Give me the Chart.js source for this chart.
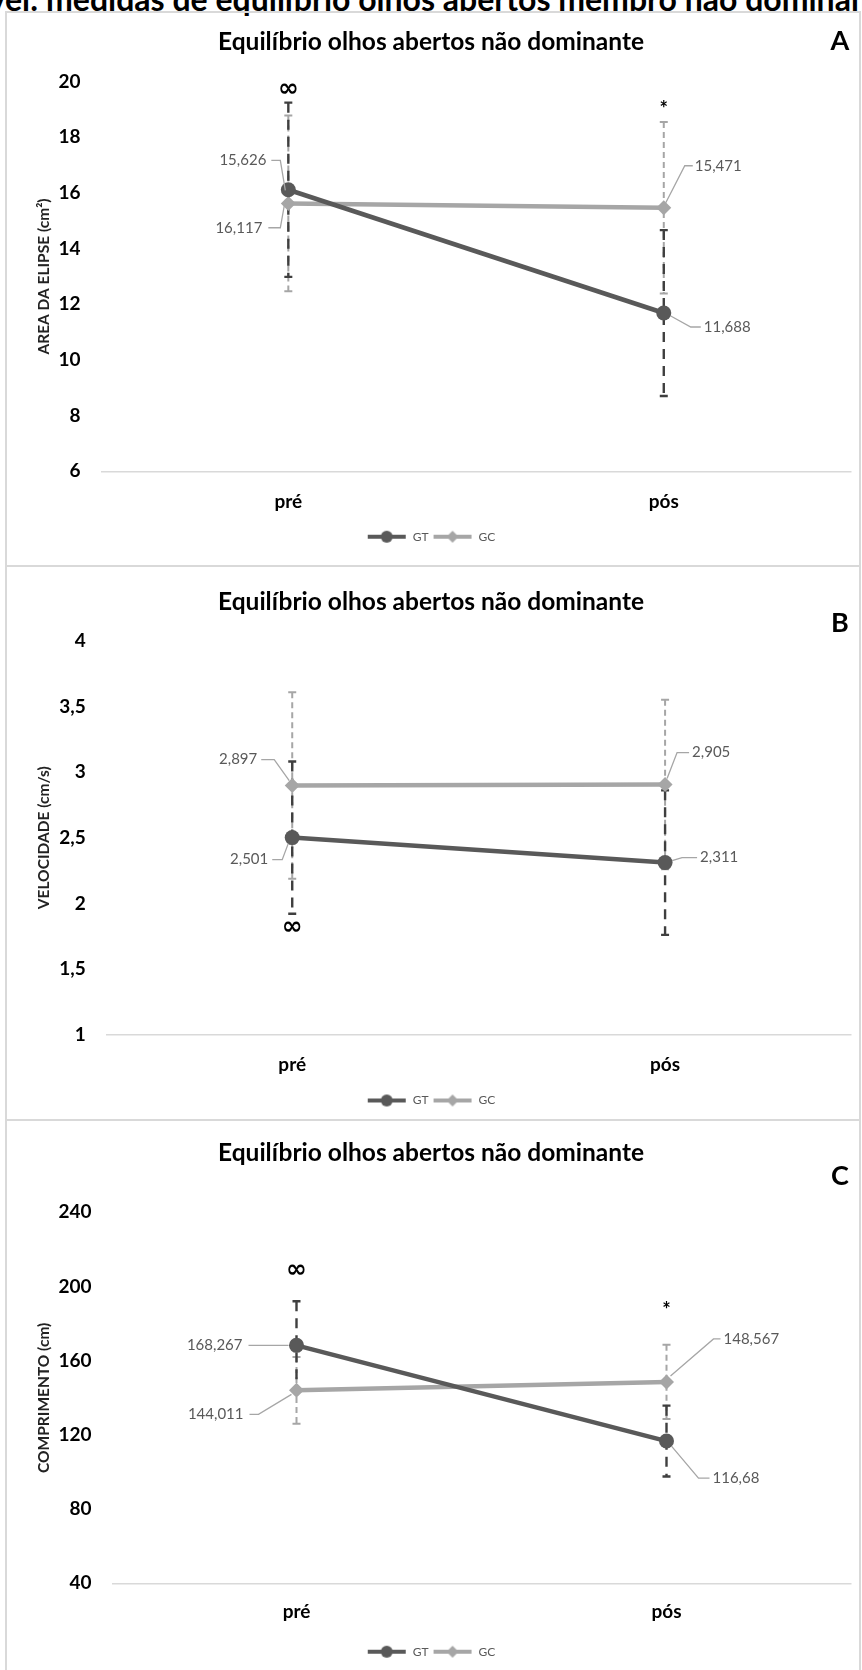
<!DOCTYPE html>
<html>
<head>
<meta charset="utf-8">
<script src="https://cdn.jsdelivr.net/npm/chart.js@4.4.1/dist/chart.umd.min.js"></script>
<style>
  html, body { margin: 0; padding: 0; background: #fff; }
  body { width: 862px; height: 1670px; position: relative; overflow: hidden; font-family: Lato, sans-serif; }
  #caption { position: absolute; top: -17px; white-space: nowrap; font: bold 32px Lato; line-height: 1; color: #000; }
  .box { position: absolute; left: 5px; width: 852px; border: 2px solid #d9d9d9; }
  canvas { position: absolute; left: 7px; }
</style>
</head>
<body>
<div id="caption"><span id="capPre">Figura 5. Variável: </span>medidas de equilíbrio olhos abertos membro não dominante</div>

<div class="box" style="top:11px;height:552px"></div>
<div class="box" style="top:565px;height:552px"></div>
<div class="box" style="top:1119px;height:560px"></div>

<canvas id="chartA" width="852" height="552" style="top:13px"></canvas>
<canvas id="chartB" width="852" height="552" style="top:567px"></canvas>
<canvas id="chartC" width="852" height="549" style="top:1121px"></canvas>

<script>
// categorias
const categories = ['pré', 'pós'];
const seriesNames = ['GT', 'GC'];

// A - área da elipse (cm²)
const areaGT = [16.117, 11.688];
const areaGC = [15.626, 15.471];
const areaGTsd = [3.13, 2.98];
const areaGCsd = [3.16, 3.08];
const areaTicks = [6, 8, 10, 12, 14, 16, 18, 20];
const areaMarks = ['∞', '*'];
const areaMarkValues = [19.73, 19.1];

// B - velocidade (cm/s)
const velGT = [2.501, 2.311];
const velGC = [2.897, 2.905];
const velGTsd = [0.58, 0.55];
const velGCsd = [0.71, 0.645];
const velTicks = [1, 1.5, 2, 2.5, 3, 3.5, 4];
const velMarks = ['∞', ''];
const velMarkValues = [1.82, null];

// C - comprimento (cm)
const compGT = [168.267, 116.68];
const compGC = [144.011, 148.567];
const compGTsd = [23.8, 19.1];
const compGCsd = [18.0, 20.0];
const compTicks = [40, 80, 120, 160, 200, 240];
const compMarks = ['∞', '*'];
const compMarkValues = [208.6, 188.7];

const DARK = '#595959';
const LIGHT = '#a6a6a6';
const TITLE_SIZE = 24.5;

const fmt = v => String(v).replace('.', ',');

// icone da legenda: linha com marcador
function legendIcon(color, style) {
    const c = document.createElement('canvas');
    c.width = 40; c.height = 16;
    const g = c.getContext('2d');
    g.strokeStyle = color; g.lineWidth = 4;
    g.beginPath(); g.moveTo(1, 8); g.lineTo(39, 8); g.stroke();
    g.fillStyle = color;
    g.beginPath();
    if (style === 'circle') {
        g.arc(20, 8, 6, 0, Math.PI * 2);
    } else {
        g.moveTo(14, 8); g.lineTo(20, 2); g.lineTo(26, 8); g.lineTo(20, 14); g.closePath();
    }
    g.fill();
    return c;
}
const icons = [legendIcon(DARK, 'circle'), legendIcon(LIGHT, 'diamond')];

// barras de erro, rótulos com linha de chamada, símbolos e letra do painel
function makeExtras(p) {
    return {
        id: 'extras',
        beforeDatasetsDraw(chart) {
            const { ctx, scales: { x, y } } = chart;
            const bars = [
                { means: p.gc, sd: p.gcSd, color: LIGHT, width: 2, dash: [6, 4] },
                { means: p.gt, sd: p.gtSd, color: '#3f3f3f', width: 2.4, dash: [10, 7] }
            ];
            ctx.save();
            bars.forEach(b => {
                b.means.forEach((m, i) => {
                    const px = x.getPixelForValue(i);
                    const top = y.getPixelForValue(m + b.sd[i]);
                    const bot = y.getPixelForValue(m - b.sd[i]);
                    ctx.strokeStyle = b.color;
                    ctx.lineWidth = b.width;
                    ctx.setLineDash(b.dash);
                    ctx.beginPath(); ctx.moveTo(px, top); ctx.lineTo(px, bot); ctx.stroke();
                    ctx.setLineDash([]);
                    ctx.beginPath();
                    ctx.moveTo(px - 4, top); ctx.lineTo(px + 4, top);
                    ctx.moveTo(px - 4, bot); ctx.lineTo(px + 4, bot);
                    ctx.stroke();
                });
            });
            ctx.restore();
        },
        afterDatasetsDraw(chart) {
            const { ctx, scales: { x, y } } = chart;
            ctx.save();
            chart.data.datasets.forEach((ds, di) => {
                chart.getDatasetMeta(di).data.forEach((pt, i) => {
                    const L = p.labels[di][i];
                    ctx.strokeStyle = LIGHT;
                    ctx.lineWidth = 1.3;
                    ctx.beginPath();
                    L.path.forEach(([dx, dy], k) => {
                        if (k === 0) ctx.moveTo(pt.x + dx, pt.y + dy);
                        else ctx.lineTo(pt.x + dx, pt.y + dy);
                    });
                    ctx.stroke();
                    ctx.fillStyle = DARK;
                    ctx.font = '15px Lato';
                    ctx.textAlign = L.align;
                    ctx.textBaseline = 'middle';
                    ctx.fillText(fmt(ds.data[i]), pt.x + L.x, pt.y + L.y);
                });
            });
            // símbolos de significância
            p.marks.forEach((t, i) => {
                if (!t) return;
                ctx.fillStyle = '#000';
                ctx.font = t === '∞' ? 'bold 25px "DejaVu Sans"' : 'bold 20px Lato';
                ctx.textAlign = 'center';
                ctx.textBaseline = 'middle';
                ctx.fillText(t, x.getPixelForValue(i), y.getPixelForValue(p.markValues[i]) + (t === '*' ? 3 : 0));
            });
            ctx.fillStyle = '#000';
            ctx.font = 'bold 27px Lato';
            ctx.textAlign = 'center';
            ctx.textBaseline = 'middle';
            ctx.fillText(p.letter, 833, p.letterY);
            ctx.restore();
        }
    };
}

function buildPanel(id, p) {
    const titleLH = TITLE_SIZE * 1.2;
    const legendTop = p.legendY - 10;
    const padBottom = p.H - legendTop - 26;
    const xH = legendTop - p.chartBottom;
    const xPad = p.xLabelY - p.chartBottom - 19 * 1.2 / 2;
    const tMin = p.ticks[0], tMax = p.ticks[p.ticks.length - 1];

    new Chart(document.getElementById(id), {
        type: 'line',
        data: {
            labels: categories,
            datasets: [
                {
                    label: seriesNames[0], data: p.gt,
                    borderColor: DARK, backgroundColor: DARK, borderWidth: 4.5,
                    pointStyle: 'circle', pointRadius: 7.5, pointBorderWidth: 0, tension: 0
                },
                {
                    label: seriesNames[1], data: p.gc,
                    borderColor: LIGHT, backgroundColor: LIGHT, borderWidth: 4.5,
                    pointStyle: 'rectRot', pointRadius: 7.5, pointBorderWidth: 0, tension: 0
                }
            ]
        },
        options: {
            responsive: false,
            animation: false,
            devicePixelRatio: 1,
            layout: { padding: { left: 0, right: 4, top: 0, bottom: padBottom } },
            plugins: {
                tooltip: { enabled: false },
                title: {
                    display: true,
                    text: 'Equilíbrio olhos abertos não dominante',
                    color: '#000',
                    font: { family: 'Lato', weight: 'bold', size: TITLE_SIZE },
                    padding: { top: p.titleY - titleLH / 2, bottom: p.chartTop - p.titleY - titleLH / 2 }
                },
                legend: {
                    position: 'bottom',
                    labels: {
                        usePointStyle: true,
                        pointStyleWidth: 40,
                        padding: 4,
                        color: DARK,
                        font: { family: 'Lato', size: 12 },
                        generateLabels: chart => chart.data.datasets.map((ds, i) => ({
                            text: ds.label,
                            pointStyle: icons[i],
                            fillStyle: ds.borderColor,
                            strokeStyle: ds.borderColor,
                            lineWidth: 0,
                            hidden: false,
                            datasetIndex: i,
                            fontColor: DARK
                        }))
                    }
                }
            },
            scales: {
                x: {
                    type: 'category',
                    offset: true,
                    grid: { display: false, drawTicks: false },
                    border: { display: false },
                    ticks: { padding: xPad, color: '#000', font: { family: 'Lato', weight: 'bold', size: 19 } },
                    afterFit: s => { s.height = xH; }
                },
                y: {
                    min: tMin,
                    max: tMax,
                    ticks: {
                        stepSize: p.ticks[1] - p.ticks[0],
                        padding: 20,
                        color: '#000',
                        font: { family: 'Lato', weight: 'bold', size: 19 },
                        callback: v => fmt(v)
                    },
                    grid: {
                        drawTicks: false,
                        lineWidth: 1.5,
                        color: c => (c.tick && c.tick.value === tMin) ? '#d9d9d9' : 'rgba(0,0,0,0)'
                    },
                    border: { display: false },
                    title: {
                        display: true,
                        text: p.yTitle,
                        color: '#222',
                        font: { family: 'Lato', weight: 'bold', size: 15.5 },
                        padding: { top: 27.7, bottom: 0 }
                    },
                    afterFit: s => { s.width = p.chartLeft; }
                }
            }
        },
        plugins: [makeExtras(p)]
    });
}

buildPanel('chartA', {
    gt: areaGT, gc: areaGC, gtSd: areaGTsd, gcSd: areaGCsd, ticks: areaTicks,
    marks: areaMarks, markValues: areaMarkValues,
    yTitle: 'AREA DA ELIPSE (cm²)', letter: 'A',
    H: 552, titleY: 29, chartTop: 68.7, chartBottom: 458.3, xLabelY: 488.7, legendY: 523.7, chartLeft: 93.6, letterY: 28,
    labels: [
        [ { x: -26, y: 38, align: 'right', path: [[-20, 38], [-8, 38], [-3, 10]] },
          { x: 40, y: 14, align: 'left', path: [[7, 3], [27, 14], [37, 14]] } ],
        [ { x: -22, y: -43, align: 'right', path: [[-17, -43], [-8, -43], [-3, -13]] },
          { x: 31, y: -42, align: 'left', path: [[2, -5], [21, -42], [29, -42]] } ]
    ]
});

buildPanel('chartB', {
    gt: velGT, gc: velGC, gtSd: velGTsd, gcSd: velGCsd, ticks: velTicks,
    marks: velMarks, markValues: velMarkValues,
    yTitle: 'VELOCIDADE (cm/s)', letter: 'B',
    H: 552, titleY: 34.7, chartTop: 73.7, chartBottom: 467.8, xLabelY: 498, legendY: 533.5, chartLeft: 98.8, letterY: 56,
    labels: [
        [ { x: -24, y: 22, align: 'right', path: [[-20, 22], [-10, 22], [-4, 6]] },
          { x: 35, y: -5, align: 'left', path: [[7, -2], [17, -5], [32, -5]] } ],
        [ { x: -35, y: -26, align: 'right', path: [[-31, -26], [-18, -26], [-3, -5]] },
          { x: 27, y: -32, align: 'left', path: [[2, -6], [12, -32], [24, -32]] } ]
    ]
});

buildPanel('chartC', {
    gt: compGT, gc: compGC, gtSd: compGTsd, gcSd: compGCsd, ticks: compTicks,
    marks: compMarks, markValues: compMarkValues,
    yTitle: 'COMPRIMENTO (cm)', letter: 'C',
    H: 549, titleY: 32.3, chartTop: 91.3, chartBottom: 462.3, xLabelY: 490.7, legendY: 530.7, chartLeft: 104.5, letterY: 55.7,
    labels: [
        [ { x: -54, y: 0, align: 'right', path: [[-48, 0], [-8, 0]] },
          { x: 46, y: 37, align: 'left', path: [[5, 5], [32, 37], [43, 37]] } ],
        [ { x: -53, y: 24, align: 'right', path: [[-47, 24], [-38, 24], [-5, 4]] },
          { x: 57, y: -43, align: 'left', path: [[4, -6], [47, -43], [54, -43]] } ]
    ]
});

// legenda superior cortada: "medidas" começa perto de x=46
const cap = document.getElementById('caption');
cap.style.left = (46 - document.getElementById('capPre').offsetWidth) + 'px';
</script>
</body>
</html>
